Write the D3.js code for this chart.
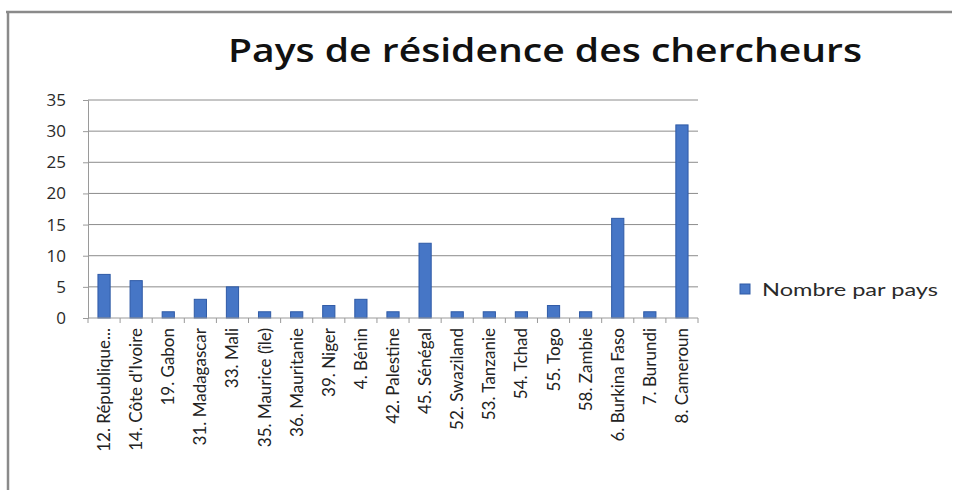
<!DOCTYPE html>
<html><head><meta charset="utf-8">
<script src="https://cdn.jsdelivr.net/npm/d3@7"></script>
<style>body{margin:0;background:#fff}svg{display:block}</style>
</head><body>
<script>
const categories = ["12. République...","14. Côte d'Ivoire","19. Gabon","31. Madagascar","33. Mali","35. Maurice (île)","36. Mauritanie","39. Niger","4. Bénin","42. Palestine","45. Sénégal","52. Swaziland","53. Tanzanie","54. Tchad","55. Togo","58. Zambie","6. Burkina Faso","7. Burundi","8. Cameroun"];
const values = [7,6,1,3,5,1,1,2,3,1,12,1,1,1,2,1,16,1,31];
const yTicks = [0,5,10,15,20,25,30,35];
const seriesName = "Nombre par pays";
const title = "Pays de résidence des chercheurs";

const W=955,H=492;
const svg=d3.select("body").append("svg").attr("width",W).attr("height",H);
const font="'Open Sans', 'Noto Sans', sans-serif";
const font2="Lato, 'Open Sans', sans-serif";

// frame
svg.append("line").attr("x1",6).attr("x2",952).attr("y1",12).attr("y2",12).attr("stroke","#8a8a8a").attr("stroke-width",2.5);
svg.append("line").attr("x1",8).attr("x2",8).attr("y1",11).attr("y2",490).attr("stroke","#8a8a8a").attr("stroke-width",2.5);

const L=88,R=698,T=100,B=318;
const x=d3.scaleBand().domain(categories).range([L,R]).paddingInner(0.62).paddingOuter(0.31);
const y=d3.scaleLinear().domain([0,35]).range([B,T]);

// grid
svg.append("g").selectAll("line").data(yTicks.filter(d=>d>0)).join("line")
  .attr("x1",L).attr("x2",R).attr("y1",d=>y(d)).attr("y2",d=>y(d))
  .attr("stroke","#8c8c8c").attr("stroke-width",1);

// y axis
const ya=svg.append("g").attr("transform",`translate(${L},0)`)
  .call(d3.axisLeft(y).tickValues(yTicks).tickSize(5).tickPadding(17));
ya.select(".domain").attr("stroke","#9a9a9a");
ya.selectAll(".tick line").attr("stroke","#9a9a9a");
ya.selectAll("text").attr("font-family",font).attr("font-size",17).attr("fill","#2a2a2a");

// bars
svg.append("g").selectAll("rect").data(values).join("rect")
  .attr("x",(d,i)=>x(categories[i])).attr("width",x.bandwidth())
  .attr("y",d=>y(d)).attr("height",d=>B-y(d))
  .attr("fill","#4676c6").attr("stroke","#2f5aa6").attr("stroke-width",1);

// x axis
const step=x.step();
const xa=svg.append("g").attr("transform",`translate(0,${B})`);
xa.append("line").attr("x1",L).attr("x2",R).attr("stroke","#9a9a9a");
xa.selectAll("line.tk").data(d3.range(categories.length+1)).join("line").attr("class","tk")
  .attr("x1",i=>L+i*step).attr("x2",i=>L+i*step).attr("y1",0).attr("y2",5).attr("stroke","#9a9a9a");
xa.selectAll("text").data(categories).join("text")
  .attr("transform",d=>`translate(${x(d)+x.bandwidth()/2+6},10) rotate(-90)`)
  .attr("text-anchor","end").attr("font-family",font2).attr("font-size",17).attr("fill","#222")
  .text(d=>d);

// title
svg.append("text").attr("x",545).attr("y",62).attr("text-anchor","middle")
  .attr("font-family",font).attr("font-weight",600).attr("font-size",33).attr("fill","#111")
  .attr("textLength",634).attr("lengthAdjust","spacingAndGlyphs").text(title);

// legend
svg.append("rect").attr("x",740).attr("y",284).attr("width",10).attr("height",10)
  .attr("fill","#4676c6").attr("stroke","#2f5aa6");
svg.append("text").attr("x",762).attr("y",296).attr("font-family",font2).attr("font-size",18).attr("fill","#2a2a2a")
  .attr("textLength",176).attr("lengthAdjust","spacingAndGlyphs")
  .text(seriesName);
</script>
</body></html>
